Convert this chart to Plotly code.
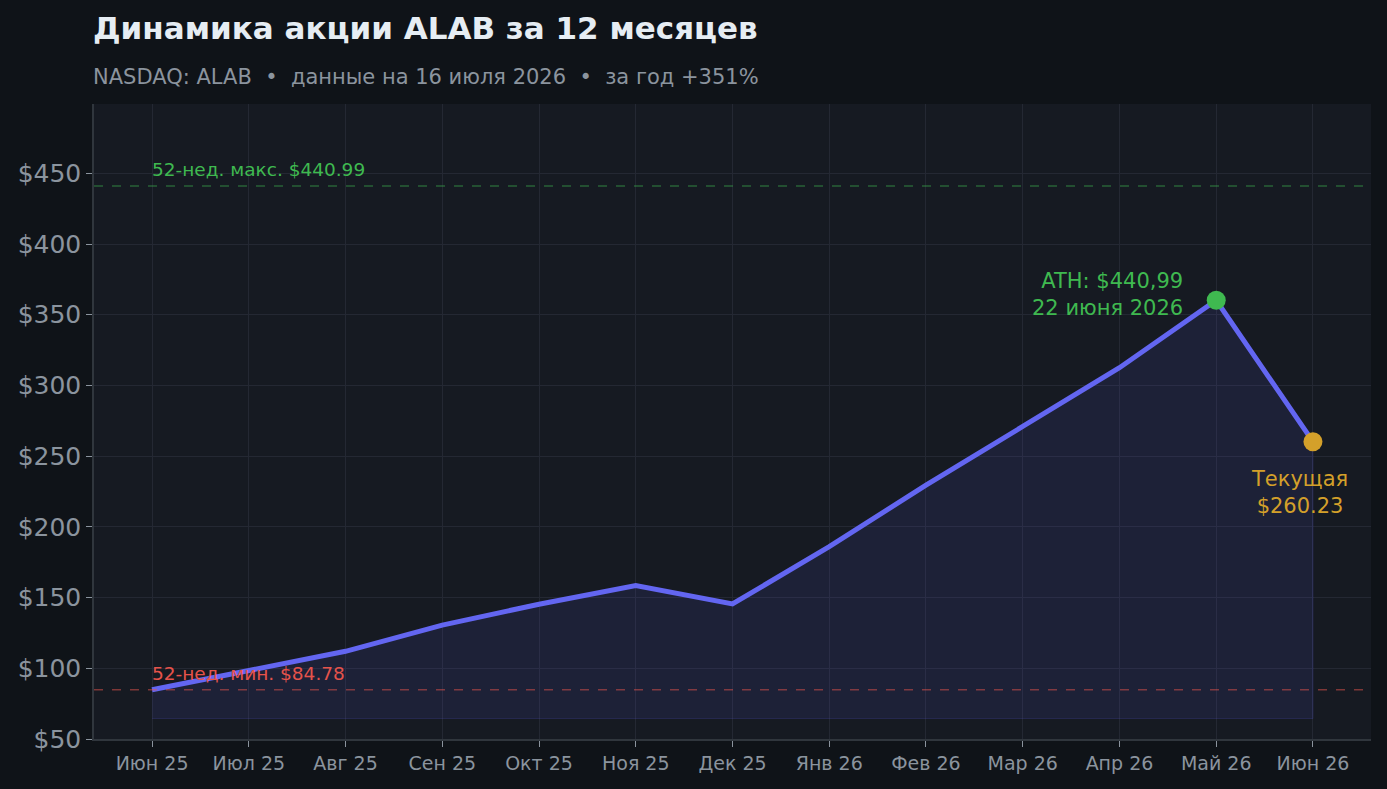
import plotly.graph_objects as go

months = ["Июн 25", "Июл 25", "Авг 25", "Сен 25", "Окт 25", "Ноя 25", "Дек 25",
          "Янв 26", "Фев 26", "Мар 26", "Апр 26", "Май 26", "Июн 26"]
prices = [84.78, 98.5, 112.0, 130.5, 145.3, 158.5, 145.5, 186.0, 229.5, 271.0, 312.5, 360.2, 260.23]
high_52w = 440.99
low_52w = 84.78
fill_base = 64.5
ath_index = 11
y_ticks = [50, 100, 150, 200, 250, 300, 350, 400, 450]

idx = list(range(len(months)))

BG = "#0f1318"
PANEL = "#161a22"
GRID = "#242833"
MUTED = "#8b949e"
LINE = "#6366f1"
GREEN = "#3fb950"
RED = "#e5534b"
ORANGE = "#d4a02a"
FONT = "DejaVu Sans"

fig = go.Figure()

# shaded area under the price line
fig.add_trace(go.Scatter(
    x=idx + idx[::-1], y=prices + [fill_base] * len(idx),
    fill="toself", fillcolor="rgba(99,102,241,0.10)",
    line=dict(color="rgba(99,102,241,0.18)", width=1),
    mode="lines", hoverinfo="skip", showlegend=False))

fig.add_trace(go.Scatter(
    x=idx, y=prices, mode="lines",
    line=dict(color=LINE, width=5), showlegend=False))

fig.add_trace(go.Scatter(
    x=[idx[ath_index]], y=[prices[ath_index]], mode="markers",
    marker=dict(color=GREEN, size=19), showlegend=False))
fig.add_trace(go.Scatter(
    x=[idx[-1]], y=[prices[-1]], mode="markers",
    marker=dict(color=ORANGE, size=19), showlegend=False))

fig.add_hline(y=high_52w, line=dict(color="rgba(63,185,80,0.45)", width=1.5, dash="dash"))
fig.add_hline(y=low_52w, line=dict(color="rgba(229,83,75,0.5)", width=1.5, dash="dash"))

fig.add_annotation(x=0, y=high_52w, text="52-нед. макс. $440.99", showarrow=False,
                   xanchor="left", yanchor="bottom", yshift=4, xshift=-2,
                   font=dict(family=FONT, size=18.5, color=GREEN))
fig.add_annotation(x=0, y=low_52w, text="52-нед. мин. $84.78", showarrow=False,
                   xanchor="left", yanchor="bottom", yshift=4, xshift=-2,
                   font=dict(family=FONT, size=18.5, color=RED))

fig.add_annotation(x=idx[ath_index], y=prices[ath_index],
                   text="ATH: $440,99<br>22 июня 2026", showarrow=False,
                   xanchor="right", yanchor="middle", align="right",
                   xshift=-31, yshift=6,
                   font=dict(family=FONT, size=21, color=GREEN))
fig.add_annotation(x=idx[-1], y=prices[-1],
                   text="Текущая<br>$260.23", showarrow=False,
                   xanchor="center", yanchor="middle", align="center",
                   xshift=-13, yshift=-51,
                   font=dict(family=FONT, size=21, color=ORANGE))

fig.add_annotation(xref="paper", yref="paper", x=0, y=1.12, text="<b>Динамика акции ALAB за 12 месяцев</b>",
                   showarrow=False, xanchor="left", yanchor="middle", xshift=-3,
                   font=dict(family=FONT, size=31, color="#e6edf3"))
fig.add_annotation(xref="paper", yref="paper", x=0, y=1.0425,
                   text="NASDAQ: ALAB  •  данные на 16 июля 2026  •  за год +351%",
                   showarrow=False, xanchor="left", yanchor="middle", xshift=-3,
                   font=dict(family=FONT, size=21, color=MUTED))

fig.update_xaxes(
    range=[-0.6, 12.6], tickvals=idx, ticktext=months,
    showgrid=True, gridcolor=GRID, gridwidth=1, zeroline=False,
    showline=True, linecolor="#30363d", linewidth=1.5,
    ticks="outside", ticklen=6, tickcolor=MUTED,
    tickfont=dict(family=FONT, size=19, color=MUTED))
fig.update_yaxes(
    range=[50, 499], tickvals=y_ticks, ticktext=["$" + str(v) for v in y_ticks],
    showgrid=True, gridcolor=GRID, gridwidth=1, zeroline=False,
    showline=True, linecolor="#30363d", linewidth=1.5,
    ticks="outside", ticklen=6, tickcolor=MUTED,
    tickfont=dict(family=FONT, size=25, color=MUTED))

fig.update_layout(
    width=1387, height=789,
    margin=dict(l=94, r=16, t=104, b=50),
    paper_bgcolor=BG, plot_bgcolor=PANEL,
    showlegend=False, font=dict(family=FONT))

fig.write_html("out.html", config={"displayModeBar": False},
               post_script="document.body.style.margin='0';")
